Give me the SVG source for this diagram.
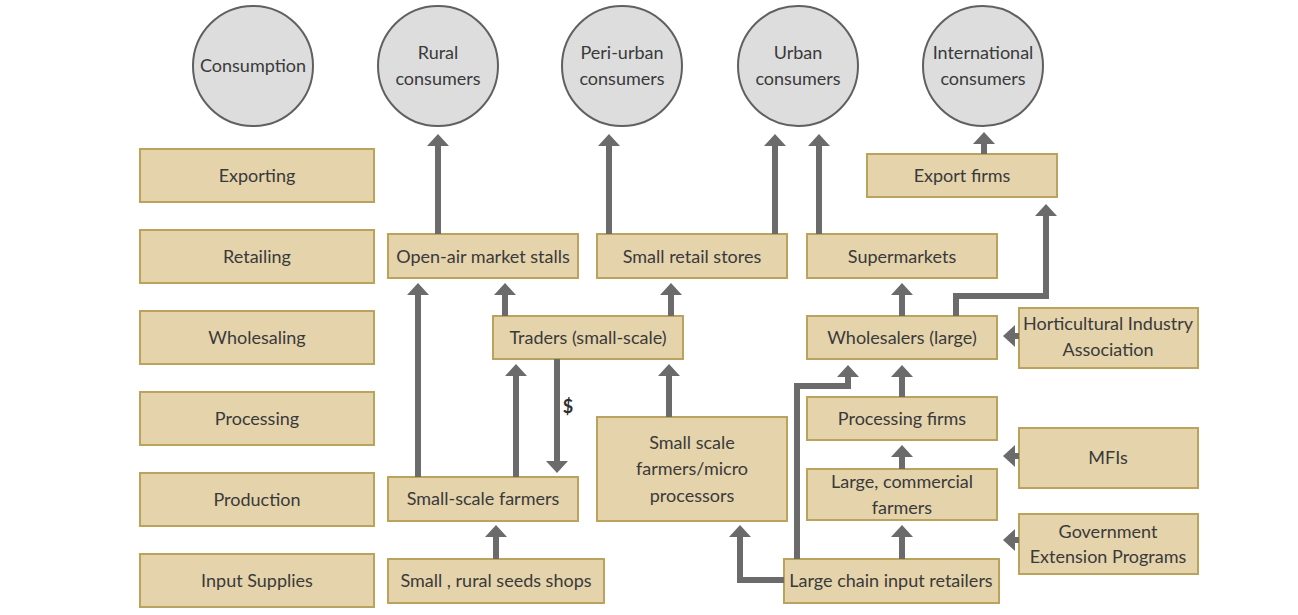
<svg xmlns="http://www.w3.org/2000/svg" width="1298" height="615" viewBox="0 0 1298 615">
<style>
.box{fill:#E4D3AB;stroke:#BBA35E;stroke-width:2}
.cir{fill:#DDDDDD;stroke:#606060;stroke-width:2}
.t{font-family:Lato,"Liberation Sans",sans-serif;font-size:18px;fill:#3A3A3A;text-anchor:middle;dominant-baseline:central}
.c{fill:none;stroke:#6B6B6B;stroke-width:6;marker-end:url(#ah)}
</style>
<defs>
<marker id="ah" viewBox="0 0 12 22" refX="0" refY="11" markerWidth="12" markerHeight="22" markerUnits="userSpaceOnUse" orient="auto">
<path d="M0,0 L12,11 L0,22 z" fill="#6B6B6B"/>
</marker>
</defs>
<rect width="1298" height="615" fill="#FFFFFF"/>

<g id="stage-consumption"><circle class="cir" cx="253" cy="66" r="60"/><text class="t" x="253" y="65">Consumption</text></g>
<g id="stage-exporting"><rect class="box" x="140" y="149" width="234" height="53"/><text class="t" x="257" y="175">Exporting</text></g>
<g id="stage-retailing"><rect class="box" x="140" y="230" width="234" height="53"/><text class="t" x="257" y="256">Retailing</text></g>
<g id="stage-wholesaling"><rect class="box" x="140" y="311" width="234" height="53"/><text class="t" x="257" y="337">Wholesaling</text></g>
<g id="stage-processing"><rect class="box" x="140" y="392" width="234" height="53"/><text class="t" x="257" y="418">Processing</text></g>
<g id="stage-production"><rect class="box" x="140" y="473" width="234" height="53"/><text class="t" x="257" y="499">Production</text></g>
<g id="stage-input"><rect class="box" x="140" y="554" width="234" height="53"/><text class="t" x="257" y="580">Input Supplies</text></g>

<g id="rural-consumers"><circle class="cir" cx="438" cy="66" r="60"/><text class="t" x="438" y="52">Rural</text><text class="t" x="438" y="78">consumers</text></g>
<g id="periurban-consumers"><circle class="cir" cx="622" cy="66" r="60"/><text class="t" x="622" y="52">Peri-urban</text><text class="t" x="622" y="78">consumers</text></g>
<g id="urban-consumers"><circle class="cir" cx="798" cy="66" r="60"/><text class="t" x="798" y="52">Urban</text><text class="t" x="798" y="78">consumers</text></g>
<g id="international-consumers"><circle class="cir" cx="983" cy="66" r="60"/><text class="t" x="983" y="52">International</text><text class="t" x="983" y="78">consumers</text></g>

<g id="export-firms"><rect class="box" x="867" y="154" width="190" height="43"/><text class="t" x="962" y="175">Export firms</text></g>
<g id="open-air"><rect class="box" x="388" y="234" width="190" height="44"/><text class="t" x="483" y="256">Open-air market stalls</text></g>
<g id="small-retail"><rect class="box" x="597" y="234" width="190" height="44"/><text class="t" x="692" y="256">Small retail stores</text></g>
<g id="supermarkets"><rect class="box" x="807" y="234" width="190" height="44"/><text class="t" x="902" y="256">Supermarkets</text></g>
<g id="traders"><rect class="box" x="493" y="316" width="190" height="43"/><text class="t" x="588" y="337">Traders (small-scale)</text></g>
<g id="wholesalers"><rect class="box" x="807" y="316" width="190" height="43"/><text class="t" x="902" y="337">Wholesalers (large)</text></g>
<g id="horticultural"><rect class="box" x="1019" y="308" width="179" height="60"/><text class="t" x="1108" y="323">Horticultural Industry</text><text class="t" x="1108" y="349">Association</text></g>
<g id="processing-firms"><rect class="box" x="807" y="397" width="190" height="43"/><text class="t" x="902" y="418">Processing firms</text></g>
<g id="mfis"><rect class="box" x="1019" y="428" width="179" height="60"/><text class="t" x="1108" y="457">MFIs</text></g>
<g id="micro-processors"><rect class="box" x="597" y="417" width="190" height="104"/><text class="t" x="692" y="442">Small scale</text><text class="t" x="692" y="468">farmers/micro</text><text class="t" x="692" y="495">processors</text></g>
<g id="large-farmers"><rect class="box" x="807" y="469" width="190" height="51"/><text class="t" x="902" y="481">Large, commercial</text><text class="t" x="902" y="507">farmers</text></g>
<g id="government"><rect class="box" x="1019" y="514" width="179" height="60"/><text class="t" x="1108" y="531">Government</text><text class="t" x="1108" y="556">Extension Programs</text></g>
<g id="small-farmers"><rect class="box" x="388" y="477" width="190" height="44"/><text class="t" x="483" y="498">Small-scale farmers</text></g>
<g id="seeds-shops"><rect class="box" x="388" y="559" width="216" height="44"/><text class="t" x="496" y="580">Small , rural seeds shops</text></g>
<g id="large-chain"><rect class="box" x="784" y="559" width="215" height="44"/><text class="t" x="891" y="580">Large chain input retailers</text></g>

<g id="connectors">
<path class="c" d="M438,234 V146"/>
<path class="c" d="M609,234 V146"/>
<path class="c" d="M775,234 V146"/>
<path class="c" d="M819,234 V146"/>
<path class="c" d="M984,154 V144"/>
<path class="c" d="M956,316 V296 H1046 V216"/>
<path class="c" d="M505,316 V295"/>
<path class="c" d="M671,316 V295"/>
<path class="c" d="M418,477 V295"/>
<path class="c" d="M516,477 V376"/>
<path class="c" d="M557,359 V461"/>
<text class="t" x="568" y="406" style="font-weight:bold;fill:#2E2E2E">$</text>
<path class="c" d="M669,417 V376"/>
<path class="c" d="M496,559 V537"/>
<path class="c" d="M784,580 H740 V537"/>
<path class="c" d="M797,559 V386 H848 V377"/>
<path class="c" d="M902,397 V377"/>
<path class="c" d="M902,469 V457"/>
<path class="c" d="M902,559 V537"/>
<path class="c" d="M902,316 V295"/>
<path class="c" d="M1019,336 H1015"/>
<path class="c" d="M1019,456 H1015"/>
<path class="c" d="M1019,540 H1015"/>
</g>
</svg>
